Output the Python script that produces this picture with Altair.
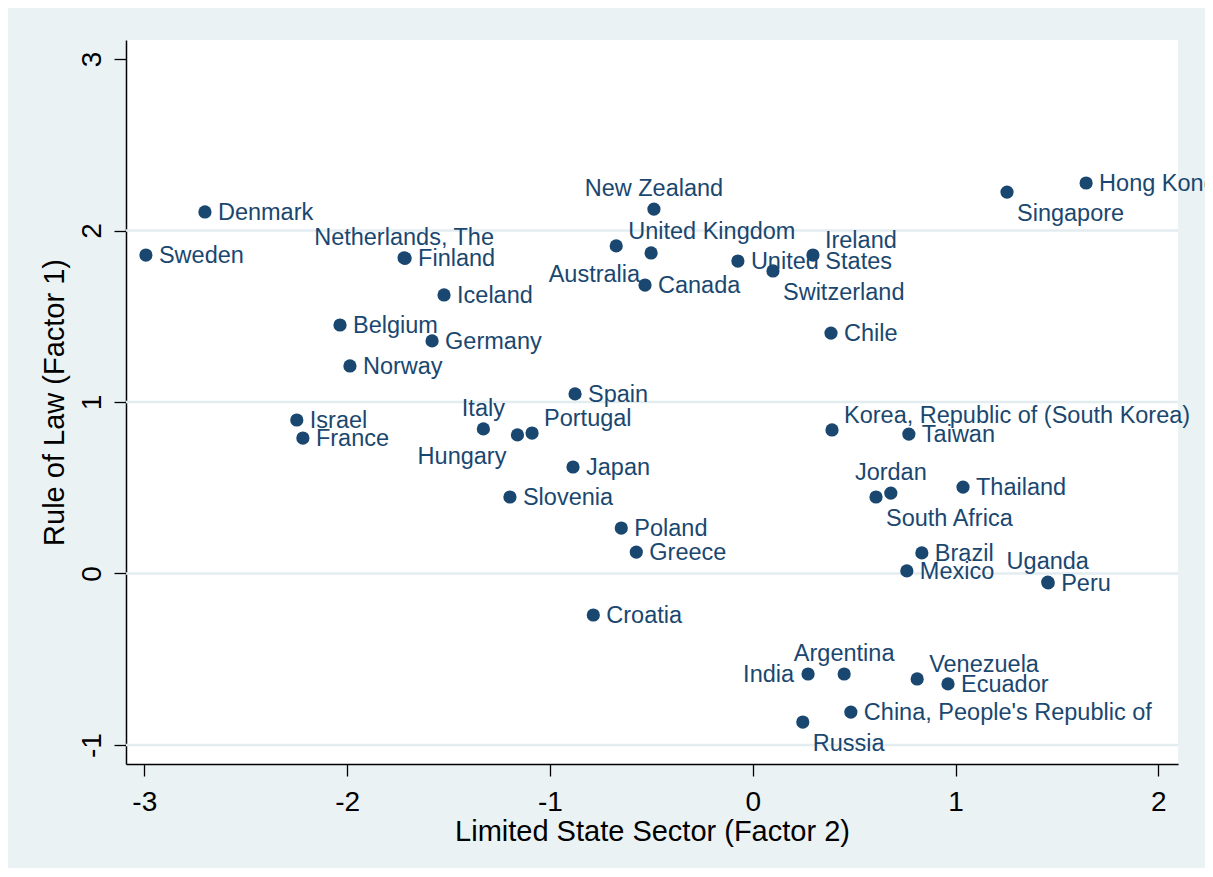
import altair as alt
import pandas as pd

countries = ["Sweden", "Denmark", "Netherlands, The", "Finland", "Iceland", "Belgium",
             "Germany", "Norway", "Israel", "France", "Italy", "Hungary", "Portugal",
             "Spain", "Japan", "Slovenia", "Poland", "Greece", "Croatia", "New Zealand",
             "United Kingdom", "Australia", "Canada", "United States", "Switzerland",
             "Ireland", "Chile", "Korea, Republic of (South Korea)", "Taiwan", "Jordan",
             "South Africa", "Thailand", "Brazil", "Mexico", "Uganda", "Peru", "India",
             "Argentina", "Venezuela", "Ecuador", "China, People's Republic of", "Russia",
             "Singapore", "Hong Kong"]
state_sector = [-2.992, -2.701, -1.719, -1.714, -1.522, -2.035,
                -1.581, -1.986, -2.248, -2.218, -1.328, -1.160, -1.088,
                -0.876, -0.886, -1.197, -0.648, -0.574, -0.786, -0.487,
                -0.673, -0.501, -0.531, -0.073, 0.100,
                0.297, 0.386, 0.391, 0.770, 0.681,
                0.608, 1.037, 0.834, 0.760, 1.455, 1.457, 0.273,
                0.451, 0.811, 0.963, 0.484, 0.247,
                1.254, 1.644]
rule_of_law = [1.857, 2.108, 1.840, 1.838, 1.624, 1.449,
               1.356, 1.210, 0.895, 0.790, 0.843, 0.808, 0.819,
               1.047, 0.621, 0.446, 0.265, 0.125, -0.242, 2.125,
               1.910, 1.869, 1.682, 1.822, 1.764,
               1.857, 1.402, 0.837, 0.813, 0.469,
               0.446, 0.504, 0.120, 0.015, -0.050, -0.055, -0.586,
               -0.586, -0.615, -0.644, -0.808, -0.866,
               2.224, 2.277]
# clock position of each marker label (Stata mlabvposition)
label_pos = [3, 3, 12, 3, 3, 3,
             3, 3, 3, 3, 12, 7, 1,
             3, 3, 3, 3, 3, 3, 12,
             1, 7, 3, 3, 5,
             1, 3, 1, 3, 12,
             5, 3, 3, 3, 12, 3, 9,
             12, 1, 3, 3, 5,
             5, 3]

x_ticks = [-3, -2, -1, 0, 1, 2]
y_ticks = [-1, 0, 1, 2, 3]
grid_lines = [-1, 0, 1, 2]

df = pd.DataFrame({"country": countries, "x": state_sector, "y": rule_of_law, "pos": label_pos})
grid_df = pd.DataFrame({"y": grid_lines})

NAVY = "#1a476f"
FONT = "Liberation Sans"
neg_expr = "datum.value < 0 ? '-' + abs(datum.value) : '' + datum.value"

xscale = alt.Scale(domain=[-3.0902, 2.0971], nice=False, zero=False)
yscale = alt.Scale(domain=[-1.1108, 3.1108], nice=False, zero=False)

x_enc = alt.X("x:Q", scale=xscale, title="Limited State Sector (Factor 2)",
              axis=alt.Axis(values=x_ticks, labelExpr=neg_expr, grid=False,
                            tickSize=12, tickWidth=1.3, tickColor="black",
                            domainColor="black", domainWidth=1.5,
                            labelFont=FONT, labelFontSize=28, labelColor="black",
                            labelBaseline="alphabetic", labelPadding=34, labelFlush=False,
                            titleFont=FONT, titleFontSize=29, titleFontWeight="normal",
                            titleColor="black", titleX=526, titleY=76,
                            titleAlign="center", titleBaseline="alphabetic"))
y_enc = alt.Y("y:Q", scale=yscale, title="Rule of Law (Factor 1)",
              axis=alt.Axis(values=y_ticks, labelExpr=neg_expr, grid=False,
                            tickSize=12, tickWidth=1.3, tickColor="black",
                            domainColor="black", domainWidth=1.5,
                            labelFont=FONT, labelFontSize=28, labelColor="black",
                            labelAngle=270, labelAlign="center", labelBaseline="alphabetic",
                            labelPadding=14, labelFlush=False,
                            titleFont=FONT, titleFontSize=29, titleFontWeight="normal",
                            titleColor="black", titleAngle=270, titleX=-63, titleY=362,
                            titleAlign="center", titleBaseline="alphabetic"))

grid = alt.Chart(grid_df).mark_rule(color="#E3EDF0", strokeWidth=2.5).encode(y=y_enc)

offsets = {
    3: dict(dx=13, dy=8, align="left"),
    9: dict(dx=-14, dy=8, align="right"),
    12: dict(dx=0, dy=-13, align="center"),
    1: dict(dx=12, dy=-7, align="left"),
    5: dict(dx=10, dy=29, align="left"),
    7: dict(dx=-11, dy=29, align="right"),
}

text_layers = []
for p, o in offsets.items():
    text_layers.append(
        alt.Chart(df).transform_filter(alt.datum.pos == p)
        .mark_text(font=FONT, fontSize=23.5, color=NAVY, baseline="alphabetic", **o)
        .encode(x=x_enc, y=y_enc, text="country:N")
    )

points = alt.Chart(df).mark_circle(color=NAVY, opacity=1, size=175).encode(x=x_enc, y=y_enc)

chart = alt.layer(grid, *text_layers, points).properties(
    width=1052, height=724,
    background="#EAF2F3",
    padding={"left": 118, "top": 32, "right": 27, "bottom": 104},
    autosize=alt.AutoSizeParams(type="none"),
).configure_view(fill="white", stroke=None)

chart.save("out.html", embed_options={"renderer": "svg", "actions": False})
